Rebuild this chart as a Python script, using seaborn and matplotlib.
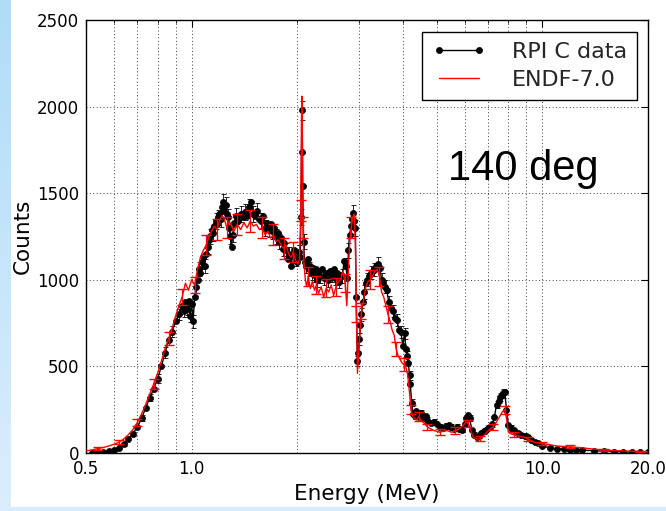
import numpy as np
import matplotlib
matplotlib.use("Agg")
import matplotlib.pyplot as plt
import seaborn as sns
from matplotlib.ticker import FixedLocator, FixedFormatter, NullFormatter
from matplotlib.patches import Rectangle

# ---------------- data ----------------
rpi_energy = [
    0.52, 0.54, 0.56, 0.58, 0.60, 0.62, 0.64, 0.66, 0.68, 0.70,
    0.72, 0.74, 0.76, 0.78, 0.80, 0.82, 0.84, 0.86, 0.88, 0.90,
    0.92, 0.94, 0.95, 0.96, 0.97, 0.98, 0.99, 1.00, 1.01, 1.02,
    1.03, 1.04, 1.05, 1.06, 1.07, 1.08, 1.09, 1.10, 1.11, 1.12,
    1.13, 1.14, 1.15, 1.16, 1.17, 1.18, 1.19, 1.20, 1.21, 1.22,
    1.23, 1.24, 1.25, 1.26, 1.27, 1.28, 1.29, 1.30, 1.31, 1.32,
    1.34, 1.36, 1.38, 1.40, 1.42, 1.44, 1.46, 1.48, 1.50, 1.52,
    1.54, 1.56, 1.58, 1.60, 1.62, 1.64, 1.66, 1.68, 1.70, 1.72,
    1.74, 1.76, 1.78, 1.80, 1.82, 1.84, 1.86, 1.88, 1.90, 1.92,
    1.94, 1.96, 1.98, 2.00, 2.02, 2.04, 2.05, 2.058, 2.065, 2.073,
    2.085, 2.10, 2.12, 2.14, 2.16, 2.18, 2.20, 2.22, 2.24, 2.26,
    2.28, 2.30, 2.33, 2.36, 2.39, 2.42, 2.45, 2.48, 2.51, 2.54,
    2.57, 2.60, 2.63, 2.66, 2.69, 2.72, 2.75, 2.78, 2.80, 2.82,
    2.85, 2.87, 2.89, 2.91, 2.93, 2.945, 2.97, 2.99, 3.01, 3.03,
    3.05, 3.08, 3.11, 3.14, 3.17, 3.20, 3.24, 3.28, 3.32, 3.36,
    3.40, 3.44, 3.48, 3.52, 3.56, 3.60, 3.65, 3.70, 3.75, 3.80,
    3.85, 3.90, 3.95, 4.00, 4.05, 4.08, 4.12, 4.15, 4.18, 4.20,
    4.24, 4.28, 4.32, 4.36, 4.40, 4.45, 4.50, 4.55, 4.60, 4.65,
    4.70, 4.80, 4.90, 5.00, 5.10, 5.20, 5.30, 5.40, 5.50, 5.60,
    5.70, 5.80, 5.90, 6.00, 6.05, 6.13, 6.20, 6.30, 6.40, 6.50,
    6.60, 6.70, 6.80, 6.90, 7.00, 7.10, 7.20, 7.30, 7.40, 7.50,
    7.56, 7.65, 7.72, 7.81, 7.90, 8.00, 8.15, 8.30, 8.50, 8.70,
    8.90, 9.10, 9.30, 9.50, 9.70, 10.0, 10.5, 11.0, 11.5, 12.0,
    12.5, 13.0, 14.0, 15.0, 16.0, 17.0, 18.0, 19.0, 20.0,
]
rpi_counts = [
    2, 5, 8, 12, 18, 30, 50, 78, 110, 150,
    200, 260, 320, 370, 430, 500, 580, 650, 700, 760,
    800, 850, 820, 870, 830, 880, 790, 860, 760, 900,
    960, 1000, 1060, 1040, 1100, 1130, 1080, 1150, 1190, 1230,
    1250, 1290, 1270, 1310, 1340, 1320, 1360, 1380, 1350, 1420,
    1450, 1400, 1430, 1380, 1360, 1300, 1250, 1190, 1260, 1330,
    1370, 1340, 1380, 1360, 1390, 1370, 1420, 1450, 1380, 1370,
    1400, 1350, 1340, 1370, 1300, 1330, 1290, 1320, 1280, 1300,
    1250, 1270, 1220, 1240, 1180, 1210, 1170, 1120, 1150, 1080,
    1140, 1170, 1120, 1100, 1160, 1130, 1360, 1740, 1980, 1540,
    1220, 1100, 1080, 1120, 1060, 1080, 1040, 1070, 1030, 1060,
    1000, 1050, 1020, 1060, 1010, 1040, 1000, 1050, 1030, 1060,
    1010, 1040, 990, 1030, 1020, 1110, 1080, 1010, 1170, 1260,
    1310, 1350, 1385, 1340, 1300, 900, 530, 580, 660, 740,
    800, 870, 930, 980, 1000, 1020, 1040, 1050, 1060, 1080,
    1090, 1070, 1000, 990, 960, 940, 870, 840, 820, 780,
    770, 710, 700, 620, 690, 600, 560, 520, 450, 400,
    290, 225, 215, 240, 220, 205, 230, 210, 200, 215,
    190, 175, 180, 165, 150, 145, 155, 160, 150, 140,
    150, 140, 135, 170, 200, 220, 200, 130, 105, 95,
    100, 115, 125, 135, 145, 150, 165, 210, 280, 300,
    325, 335, 345, 355, 250, 160, 145, 135, 115, 105,
    100, 90, 75, 65, 55, 40, 30, 25, 22, 20,
    18, 16, 13, 10, 8, 7, 5, 4, 3,
]
rpi_err = [
    3, 4, 5, 6, 7, 8, 10, 12, 14, 16,
    18, 20, 22, 24, 26, 28, 30, 32, 32, 34,
    34, 36, 36, 36, 36, 38, 36, 38, 36, 38,
    38, 38, 40, 40, 40, 42, 40, 42, 42, 42,
    42, 44, 44, 44, 44, 44, 44, 46, 46, 46,
    46, 46, 46, 46, 46, 44, 44, 42, 44, 46,
    46, 46, 46, 46, 46, 46, 46, 46, 46, 46,
    45, 45, 45, 45, 45, 45, 45, 45, 45, 45,
    44, 44, 44, 44, 42, 42, 42, 42, 42, 55,
    42, 42, 42, 42, 42, 42, 46, 52, 55, 48,
    44, 42, 42, 42, 40, 40, 40, 40, 40, 40,
    40, 40, 40, 40, 40, 40, 40, 40, 40, 40,
    40, 40, 40, 40, 40, 45, 45, 40, 45, 45,
    45, 46, 46, 46, 45, 40, 30, 32, 34, 36,
    38, 38, 38, 38, 38, 38, 38, 38, 38, 38,
    40, 40, 38, 38, 38, 38, 36, 36, 36, 36,
    34, 34, 34, 32, 34, 32, 30, 30, 26, 24,
    20, 18, 18, 18, 18, 18, 18, 18, 18, 18,
    16, 16, 16, 16, 16, 16, 16, 16, 16, 16,
    15, 15, 15, 16, 18, 18, 18, 15, 14, 13,
    13, 14, 14, 15, 15, 15, 16, 18, 22, 24,
    24, 26, 26, 26, 22, 17, 16, 15, 14, 13,
    13, 12, 12, 11, 10, 9, 8, 7, 7, 7,
    6, 6, 5, 5, 4, 4, 3, 3, 3,
]

endf_energy = [
    0.50, 0.52, 0.54, 0.56, 0.58, 0.60, 0.62, 0.64, 0.66, 0.68,
    0.70, 0.72, 0.74, 0.76, 0.78, 0.80, 0.82, 0.84, 0.86, 0.88,
    0.90, 0.92, 0.94, 0.96, 0.98, 1.00, 1.02, 1.04, 1.06, 1.08,
    1.10, 1.12, 1.14, 1.16, 1.18, 1.20, 1.22, 1.24, 1.26, 1.28,
    1.30, 1.32, 1.35, 1.38, 1.41, 1.44, 1.47, 1.50, 1.53, 1.56,
    1.59, 1.62, 1.65, 1.68, 1.71, 1.74, 1.77, 1.80, 1.83, 1.86,
    1.89, 1.92, 1.95, 1.98, 2.01, 2.03, 2.048, 2.056, 2.063, 2.07,
    2.078, 2.09, 2.11, 2.13, 2.15, 2.18, 2.21, 2.24, 2.27, 2.30,
    2.34, 2.38, 2.42, 2.46, 2.50, 2.54, 2.58, 2.62, 2.66, 2.70,
    2.74, 2.77, 2.79, 2.82, 2.85, 2.88, 2.91, 2.93, 2.95, 2.97,
    2.99, 3.02, 3.05, 3.09, 3.13, 3.18, 3.23, 3.28, 3.33, 3.38,
    3.43, 3.48, 3.53, 3.58, 3.63, 3.68, 3.73, 3.78, 3.83, 3.88,
    3.93, 3.98, 4.03, 4.08, 4.13, 4.18, 4.22, 4.27, 4.32, 4.38,
    4.44, 4.50, 4.56, 4.62, 4.70, 4.80, 4.90, 5.00, 5.10, 5.20,
    5.35, 5.50, 5.65, 5.80, 5.95, 6.05, 6.15, 6.25, 6.35, 6.50,
    6.65, 6.80, 6.95, 7.10, 7.25, 7.40, 7.55, 7.70, 7.80, 7.90,
    8.00, 8.15, 8.30, 8.50, 8.70, 8.90, 9.10, 9.30, 9.50, 9.70,
    10.0, 10.5, 11.0, 11.5, 12.0, 12.5, 13.0, 14.0, 15.0, 16.0,
    17.0, 18.0, 19.0, 20.0,
]
endf_counts = [
    12, 18, 25, 32, 40, 50, 62, 80, 105, 135,
    175, 225, 280, 340, 400, 460, 530, 600, 660, 720,
    790, 850, 900, 980, 940, 1000, 970, 1060, 1130, 1170,
    1200, 1250, 1280, 1310, 1290, 1340, 1370, 1350, 1300, 1340,
    1310, 1280, 1320, 1290, 1330, 1300, 1340, 1310, 1320, 1290,
    1300, 1260, 1280, 1240, 1260, 1220, 1230, 1200, 1180, 1200,
    1150, 1130, 1160, 1110, 1090, 1120, 1400, 1900, 2060, 1800,
    1300, 1100, 1000, 960, 1020, 950, 990, 940, 970, 920,
    960, 900, 950, 930, 970, 910, 960, 990, 1000, 1050,
    980, 850, 1000, 1200, 1300, 1360, 1380, 1200, 800, 460,
    560, 700, 820, 880, 950, 990, 1000, 1020, 1050, 1060,
    1020, 930, 900, 850, 800, 760, 710, 680, 600, 560,
    540, 520, 510, 500, 450, 350, 250, 210, 200, 190,
    210, 190, 180, 170, 150, 140, 130, 125, 120, 125,
    130, 120, 130, 140, 160, 180, 170, 130, 90, 80,
    85, 100, 120, 140, 150, 180, 210, 240, 250, 200,
    120, 110, 105, 100, 95, 90, 80, 70, 62, 58,
    55, 48, 40, 38, 35, 33, 30, 22, 18, 14,
    12, 10, 8, 7,
]
endf_err = [
    6, 7, 8, 9, 10, 11, 12, 14, 16, 18,
    20, 22, 24, 26, 28, 30, 32, 34, 36, 38,
    40, 42, 44, 48, 46, 50, 48, 52, 54, 56,
    56, 58, 58, 60, 60, 60, 62, 62, 60, 62,
    62, 62, 62, 62, 62, 62, 62, 62, 62, 62,
    60, 60, 60, 60, 60, 60, 60, 60, 60, 60,
    58, 58, 58, 58, 56, 56, 60, 70, 72, 68,
    60, 56, 54, 52, 54, 52, 52, 52, 52, 50,
    52, 52, 52, 52, 52, 52, 52, 52, 52, 52,
    52, 50, 52, 58, 60, 62, 62, 58, 46, 36,
    40, 44, 48, 50, 52, 54, 54, 54, 55, 55,
    54, 52, 50, 50, 48, 46, 45, 44, 42, 40,
    40, 38, 38, 38, 36, 32, 26, 24, 24, 22,
    24, 22, 22, 22, 20, 20, 20, 18, 18, 18,
    18, 18, 18, 18, 20, 20, 20, 18, 16, 15,
    15, 16, 17, 18, 18, 20, 22, 24, 24, 22,
    16, 16, 15, 15, 14, 14, 13, 12, 12, 12,
    10, 10, 9, 9, 9, 8, 8, 7, 6, 6,
    5, 5, 4, 4,
]

x_major = [0.5, 1.0, 10.0, 20.0]
x_major_labels = ["0.5", "1.0", "10.0", "20.0"]
x_minor = [0.6, 0.7, 0.8, 0.9, 2, 3, 4, 5, 6, 7, 8, 9]
y_ticks = [0, 500, 1000, 1500, 2000, 2500]
series_labels = ["RPI C data", "ENDF-7.0"]
annotation = "140 deg"

# ---------------- style ----------------
sns.set_theme(style="white")
plt.rcParams["font.family"] = ["DejaVu Sans"]
plt.rcParams["axes.linewidth"] = 1.0
plt.rcParams["xtick.direction"] = "in"
plt.rcParams["ytick.direction"] = "in"

fig = plt.figure(figsize=(6.66, 5.11), dpi=100)
fig.patch.set_facecolor("white")

# light-blue slide decoration (left strip gradient + bottom strip)
bg = fig.add_axes([0, 0, 11 / 666, 1], zorder=-5)
grad = np.linspace(0, 1, 256).reshape(-1, 1)
c_top = np.array([176, 220, 248]) / 255
c_bot = np.array([218, 238, 252]) / 255
img = c_top[None, None, :] * (1 - grad[:, :, None]) + c_bot[None, None, :] * grad[:, :, None]
bg.imshow(img, aspect="auto", extent=[0, 1, 0, 1])
bg.set_axis_off()
fig.add_artist(Rectangle((0, 0), 1, 4 / 511, transform=fig.transFigure,
                         facecolor="#d8edfb", edgecolor="none", zorder=-4))

ax = fig.add_axes([86 / 666, 1 - 453 / 511, 562 / 666, 433 / 511])
ax.set_facecolor("white")

# RPI data: black points joined by a line, with error bars
sns.lineplot(x=rpi_energy, y=rpi_counts, ax=ax, color="black", lw=1.0,
             marker="o", markersize=4.4, markeredgecolor="black",
             markeredgewidth=0.5, sort=False, errorbar=None,
             label=series_labels[0], zorder=3)
ax.errorbar(rpi_energy, rpi_counts, yerr=rpi_err, fmt="none",
            ecolor="black", elinewidth=0.6, capsize=1.8, capthick=0.6,
            errorevery=(0, 2), zorder=3)

# ENDF: red line with sparse error bars
sns.lineplot(x=endf_energy, y=endf_counts, ax=ax, color="red", lw=1.0,
             sort=False, errorbar=None, label=series_labels[1], zorder=4)
ax.errorbar(endf_energy, endf_counts, yerr=endf_err, fmt="none",
            ecolor="red", elinewidth=0.9, capsize=3.5, errorevery=(2, 4),
            zorder=4)

ax.set_xscale("log")
ax.set_xlim(0.5, 20.0)
ax.set_ylim(0, 2500)
ax.xaxis.set_major_locator(FixedLocator(x_major))
ax.xaxis.set_major_formatter(FixedFormatter(x_major_labels))
ax.xaxis.set_minor_locator(FixedLocator(x_minor))
ax.xaxis.set_minor_formatter(NullFormatter())
ax.set_yticks(y_ticks)
ax.set_yticklabels([str(v) for v in y_ticks])

ax.tick_params(which="both", direction="in", top=True, right=True,
               colors="black", labelsize=12)
ax.tick_params(which="major", length=5, width=0.8, pad=5)
ax.tick_params(which="minor", length=2.5, width=0.6)

grid_style = dict(ls=(0, (1, 2.5)), color="0.25", lw=0.7)
ax.grid(True, which="both", axis="x", **grid_style)
ax.grid(True, which="major", axis="y", **grid_style)
ax.set_axisbelow(True)
for s in ax.spines.values():
    s.set_color("black")
    s.set_linewidth(1.0)

ax.set_xlabel("Energy (MeV)", fontsize=15.5, color="black", labelpad=4)
ax.set_ylabel("Counts", fontsize=15.5, color="black", labelpad=3)

ax.text((448 - 86) / 562, (453 - 180) / 433, annotation,
        transform=ax.transAxes, fontsize=30, family=["Liberation Sans", "DejaVu Sans"],
        ha="left", va="baseline", color="black")

leg = ax.legend(loc="upper right", bbox_to_anchor=((637 - 86) / 562, (453 - 32) / 433),
                borderaxespad=0, fontsize=16, frameon=True, fancybox=False,
                edgecolor="black", framealpha=1, numpoints=2, handlelength=2.4,
                borderpad=0.45, labelspacing=0.35, handletextpad=1.2)
leg.get_frame().set_linewidth(1.0)

fig.savefig("out.png", dpi=100, facecolor="white")
